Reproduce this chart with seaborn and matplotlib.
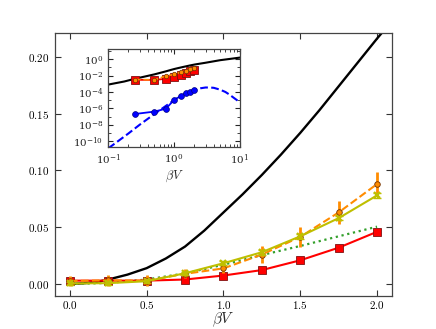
import numpy as np
import matplotlib
matplotlib.use('Agg')
import matplotlib.pyplot as plt
import seaborn as sns
from matplotlib.ticker import FuncFormatter, LogLocator, NullFormatter

# data
beta_v = [0.0, 0.25, 0.5, 0.75, 1.0, 1.25, 1.5, 1.75, 2.0]
red_y = [0.003, 0.003, 0.003, 0.004, 0.0075, 0.0123, 0.0209, 0.032, 0.046]
orange_y = [0.0027, 0.0033, 0.003, 0.009, 0.0138, 0.026, 0.0415, 0.063, 0.088]
orange_err = [0.0045, 0.005, 0.005, 0.004, 0.004, 0.0078, 0.009, 0.0098, 0.0106]
yellow_y = [0.0005, 0.0008, 0.0025, 0.0095, 0.0183, 0.028, 0.042, 0.058, 0.078]
yellow_err = [0.0015, 0.0015, 0.0015, 0.0015, 0.0018, 0.002, 0.002, 0.002, 0.002]
green_y = [0.0, 0.001, 0.004, 0.0094, 0.017, 0.0255, 0.0335, 0.042, 0.0505]

black_x = [0.0, 0.1, 0.175, 0.25, 0.375, 0.5, 0.625, 0.75, 0.875, 1.0, 1.125, 1.25, 1.375,
           1.5, 1.625, 1.75, 1.875, 2.0, 2.1, 3.0, 5.0, 7.0, 10.0]
black_y = [0.0, 0.0008, 0.0019, 0.004, 0.0083, 0.014, 0.0225, 0.033, 0.047, 0.063, 0.079,
           0.096, 0.114, 0.133, 0.153, 0.174, 0.195, 0.216, 0.232, 0.37, 0.76, 1.08, 1.58]

# inset (log-log) series
inset_x = [0.25, 0.5, 0.75, 1.0, 1.25, 1.5, 1.75, 2.0]
blue_y = [2e-7, 4e-7, 9e-7, 1.1e-5, 3e-5, 8e-5, 1.1e-4, 1.7e-4]
dash_x = [0.1, 0.2, 0.3, 0.5, 0.75, 1.0, 1.5, 2.0, 2.5, 3.0, 3.5, 4.0, 5.0, 6.0, 7.0, 8.0, 9.0, 10.0]
dash_y = [1.3e-11, 8e-10, 1e-8, 2e-7, 2e-6, 1e-5, 6.3e-5, 1.8e-4, 2.8e-4, 3.5e-4, 3.5e-4,
          3.2e-4, 1.9e-4, 1e-4, 4.5e-5, 2e-5, 1e-5, 5e-6]

sns.set_style('ticks')
plt.rcParams['mathtext.fontset'] = 'cm'
plt.rcParams['font.family'] = ['DejaVu Serif']

red = '#ff0000'
orange = '#ff8c00'
olive = '#bfbf00'
green = '#33a02c'

fig, ax = plt.subplots(figsize=(4.36, 3.29), dpi=100)
fig.subplots_adjust(left=0.125, right=0.9, bottom=0.1, top=0.9)

sns.lineplot(x=black_x, y=black_y, ax=ax, color='k', lw=1.7, sort=False)
sns.lineplot(x=beta_v, y=green_y, ax=ax, color=green, lw=1.6, linestyle=':')
sns.lineplot(x=beta_v, y=red_y, ax=ax, color=red, lw=1.5, marker='s', ms=5.5,
             markeredgecolor='#801010', markeredgewidth=0.6)
ax.errorbar(beta_v, orange_y, yerr=orange_err, fmt='none', ecolor=orange, elinewidth=2, capsize=0)
sns.lineplot(x=beta_v, y=orange_y, ax=ax, color=orange, lw=1.5, linestyle='--', marker='o',
             ms=4, markeredgecolor='#703000', markeredgewidth=0.6)
ax.errorbar(beta_v, yellow_y, yerr=yellow_err, fmt='none', ecolor=olive, elinewidth=1, capsize=3)
sns.lineplot(x=beta_v, y=yellow_y, ax=ax, color=olive, lw=1.5, marker='x', ms=5,
             markeredgecolor=olive, markeredgewidth=1.6)

ax.set_xlim(-0.1, 2.1)
ax.set_ylim(-0.0106, 0.221)
ax.set_xticks([0.0, 0.5, 1.0, 1.5, 2.0])
ax.set_yticks([0.0, 0.05, 0.10, 0.15, 0.20])
ax.xaxis.set_major_formatter(FuncFormatter(lambda v, p: f'${v:.1f}$'))
ax.yaxis.set_major_formatter(FuncFormatter(lambda v, p: f'${v:.2f}$'))
ax.tick_params(direction='in', top=True, right=True, length=4, width=0.8, labelsize=8, colors='#333333',
               labelcolor='k')
ax.tick_params(axis='x', pad=2)
for s in ax.spines.values():
    s.set_color('#444444')
    s.set_linewidth(0.9)
ax.set_xlabel(r'$\beta V$', fontsize=11, labelpad=-0.5)
ax.set_ylabel('')

# inset
axin = fig.add_axes([0.2484, 0.552, 0.302, 0.298])
sns.lineplot(x=black_x[1:], y=black_y[1:], ax=axin, color='k', lw=1.5)
sns.lineplot(x=dash_x, y=dash_y, ax=axin, color='#0000ff', lw=1.5, linestyle='--')
sns.lineplot(x=inset_x, y=blue_y, ax=axin, color='#0000ff', lw=1.3, marker='o', ms=4.2,
             markeredgecolor='#000080', markeredgewidth=0.5)
sns.lineplot(x=inset_x, y=red_y[1:], ax=axin, color=red, lw=1.3, marker='s', ms=5.5,
             markeredgecolor='#801010', markeredgewidth=0.6)
sns.lineplot(x=inset_x, y=orange_y[1:], ax=axin, color=orange, lw=1.2, linestyle='--', marker='o',
             ms=3.2, markeredgecolor='#703000', markeredgewidth=0.5)
axin.set_xscale('log')
axin.set_yscale('log')
axin.set_xlim(0.1, 10)
axin.set_ylim(1.7e-11, 16)
axin.set_yticks([1e-10, 1e-8, 1e-6, 1e-4, 1e-2, 1e0])
axin.yaxis.set_minor_locator(LogLocator(base=10, subs=[1.0], numticks=30))
axin.yaxis.set_minor_formatter(NullFormatter())
axin.tick_params(which='both', direction='in', top=True, right=True, labelsize=7.5)
axin.tick_params(which='major', length=3.5)
axin.tick_params(which='minor', length=2)
for s in axin.spines.values():
    s.set_color('#444444')
    s.set_linewidth(0.9)
axin.set_xlabel(r'$\beta V$', fontsize=9, labelpad=1)
axin.set_ylabel('')

fig.savefig('out.png', dpi=100)
